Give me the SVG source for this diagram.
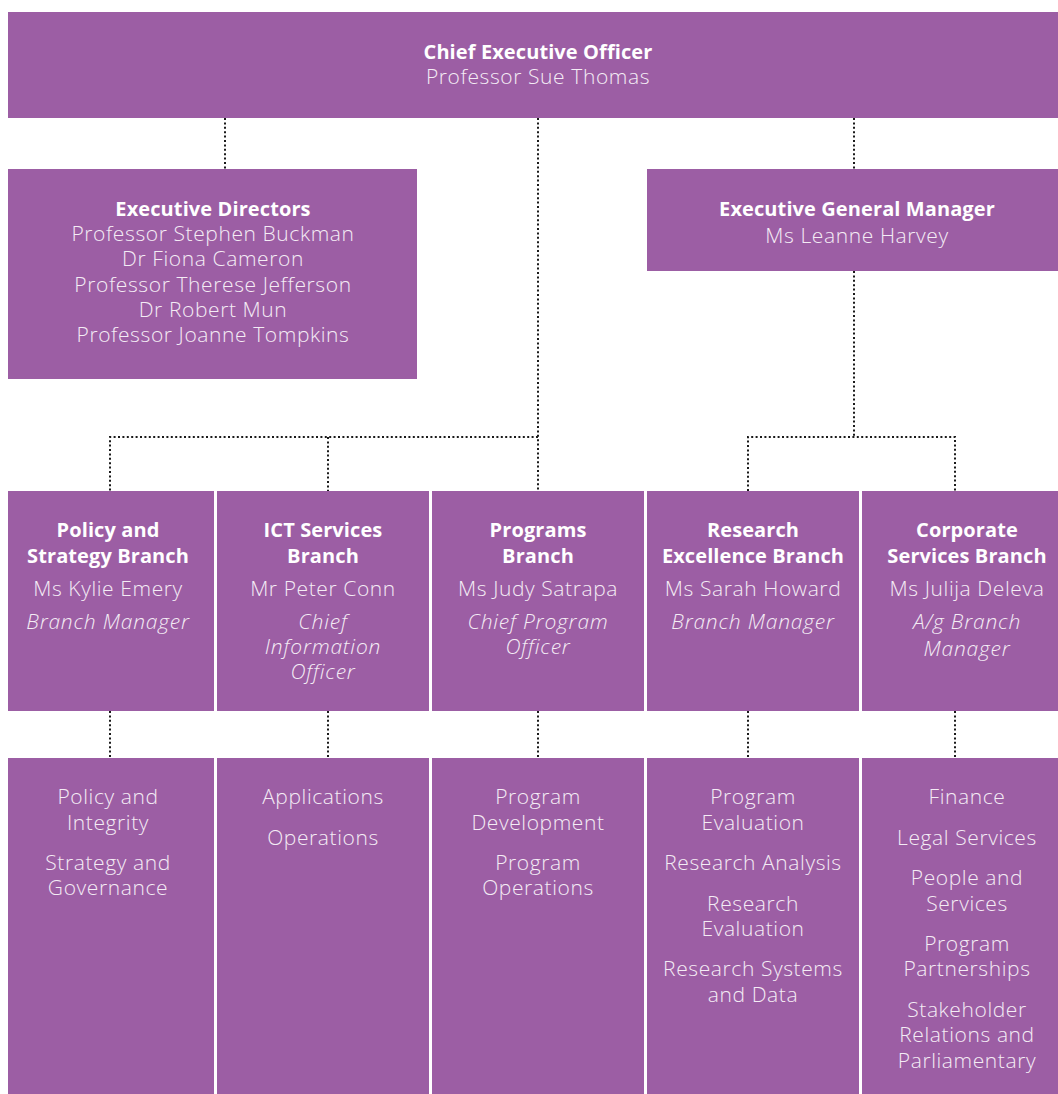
<svg xmlns="http://www.w3.org/2000/svg" width="1058" height="1094" viewBox="0 0 1058 1094">
<style>
.box{fill:#9c5ea4}
.t{font-family:"Open Sans","Noto Sans",sans-serif;font-size:21px;letter-spacing:0.6px;fill:#f4ecf5;text-anchor:middle;font-weight:300}
.b{font-weight:700;fill:#ffffff;font-size:20px;letter-spacing:0.1px}
.i{font-style:italic;letter-spacing:0.8px}
.c{fill:none;stroke:#1a1a1a;stroke-width:2;stroke-dasharray:2 2.4}
</style>
<rect width="1058" height="1094" fill="#ffffff"/>
<g id="connectors">
<path class="c" d="M225 118V169"/>
<path class="c" d="M854 118V169"/>
<path class="c" d="M538 118V491"/>
<path class="c" d="M538 437H110V491"/>
<path class="c" d="M328 437V491"/>
<path class="c" d="M854 271V437"/>
<path class="c" d="M748 491V437H955V491"/>
<path class="c" d="M110 711V758"/>
<path class="c" d="M328 711V758"/>
<path class="c" d="M538 711V758"/>
<path class="c" d="M748 711V758"/>
<path class="c" d="M955 711V758"/>
</g>
<g id="ceo">
<rect class="box" x="8" y="12" width="1050" height="106"/>
<text class="t b" x="538" y="59">Chief Executive Officer</text>
<text class="t" x="538" y="84">Professor Sue Thomas</text>
</g>
<g id="exec-directors">
<rect class="box" x="8" y="169" width="409" height="210"/>
<text class="t b" x="213" y="216">Executive Directors</text>
<text class="t" x="213" y="241">Professor Stephen Buckman</text>
<text class="t" x="213" y="266">Dr Fiona Cameron</text>
<text class="t" x="213" y="292">Professor Therese Jefferson</text>
<text class="t" x="213" y="317">Dr Robert Mun</text>
<text class="t" x="213" y="342">Professor Joanne Tompkins</text>
</g>
<g id="egm">
<rect class="box" x="647" y="169" width="411" height="102"/>
<text class="t b" x="857" y="216">Executive General Manager</text>
<text class="t" x="857" y="243">Ms Leanne Harvey</text>
</g>
<g id="policy-branch">
<rect class="box" x="8" y="491" width="206" height="220"/>
<text class="t b" x="108" y="537">Policy and</text>
<text class="t b" x="108" y="563">Strategy Branch</text>
<text class="t" x="108" y="596">Ms Kylie Emery</text>
<text class="t i" x="108" y="629">Branch Manager</text>
</g>
<g id="ict-branch">
<rect class="box" x="217" y="491" width="212" height="220"/>
<text class="t b" x="323" y="537">ICT Services</text>
<text class="t b" x="323" y="563">Branch</text>
<text class="t" x="323" y="596">Mr Peter Conn</text>
<text class="t i" x="323" y="629">Chief</text>
<text class="t i" x="323" y="654">Information</text>
<text class="t i" x="323" y="679">Officer</text>
</g>
<g id="programs-branch">
<rect class="box" x="432" y="491" width="212" height="220"/>
<text class="t b" x="538" y="537">Programs</text>
<text class="t b" x="538" y="563">Branch</text>
<text class="t" x="538" y="596">Ms Judy Satrapa</text>
<text class="t i" x="538" y="629">Chief Program</text>
<text class="t i" x="538" y="654">Officer</text>
</g>
<g id="research-branch">
<rect class="box" x="647" y="491" width="212" height="220"/>
<text class="t b" x="753" y="537">Research</text>
<text class="t b" x="753" y="563">Excellence Branch</text>
<text class="t" x="753" y="596">Ms Sarah Howard</text>
<text class="t i" x="753" y="629">Branch Manager</text>
</g>
<g id="corporate-branch">
<rect class="box" x="862" y="491" width="196" height="220"/>
<text class="t b" x="967" y="537">Corporate</text>
<text class="t b" x="967" y="563">Services Branch</text>
<text class="t" x="967" y="596">Ms Julija Deleva</text>
<text class="t i" x="967" y="629">A/g Branch</text>
<text class="t i" x="967" y="656">Manager</text>
</g>
<g id="policy-units">
<rect class="box" x="8" y="758" width="206" height="336"/>
<text class="t" x="108" y="804">Policy and</text>
<text class="t" x="108" y="830">Integrity</text>
<text class="t" x="108" y="870">Strategy and</text>
<text class="t" x="108" y="895">Governance</text>
</g>
<g id="ict-units">
<rect class="box" x="217" y="758" width="212" height="336"/>
<text class="t" x="323" y="804">Applications</text>
<text class="t" x="323" y="845">Operations</text>
</g>
<g id="programs-units">
<rect class="box" x="432" y="758" width="212" height="336"/>
<text class="t" x="538" y="804">Program</text>
<text class="t" x="538" y="830">Development</text>
<text class="t" x="538" y="870">Program</text>
<text class="t" x="538" y="895">Operations</text>
</g>
<g id="research-units">
<rect class="box" x="647" y="758" width="212" height="336"/>
<text class="t" x="753" y="804">Program</text>
<text class="t" x="753" y="830">Evaluation</text>
<text class="t" x="753" y="870">Research Analysis</text>
<text class="t" x="753" y="911">Research</text>
<text class="t" x="753" y="936">Evaluation</text>
<text class="t" x="753" y="976">Research Systems</text>
<text class="t" x="753" y="1002">and Data</text>
</g>
<g id="corporate-units">
<rect class="box" x="862" y="758" width="196" height="336"/>
<text class="t" x="967" y="804">Finance</text>
<text class="t" x="967" y="845">Legal Services</text>
<text class="t" x="967" y="885">People and</text>
<text class="t" x="967" y="911">Services</text>
<text class="t" x="967" y="951">Program</text>
<text class="t" x="967" y="976">Partnerships</text>
<text class="t" x="967" y="1017">Stakeholder</text>
<text class="t" x="967" y="1042">Relations and</text>
<text class="t" x="967" y="1068">Parliamentary</text>
</g>
</svg>
